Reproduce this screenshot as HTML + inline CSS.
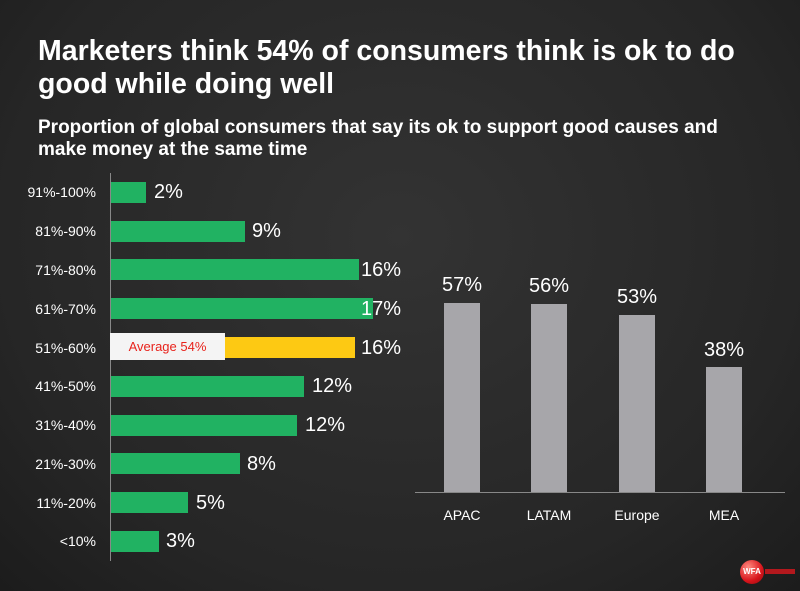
<!DOCTYPE html>
<html><head><style>
body{margin:0;width:800px;height:591px;overflow:hidden;background:radial-gradient(ellipse at 50% 40%,#333 0%,#262626 70%,#1c1c1c 100%);font-family:"Liberation Sans",sans-serif;color:#fff;position:relative}
.a{position:absolute;white-space:nowrap}
.t{left:38px;font-weight:bold;font-size:28.5px;line-height:33px;top:35px}
.s{left:38px;font-weight:bold;font-size:19px;line-height:22px;top:117px}
.lab{font-size:14px;width:96px;text-align:right;left:0}
.bar{background:#21b262;height:21px;left:111px}
.v{font-size:20px}
.g{background:#a7a6aa;width:36px}
.cl{font-size:14px;text-align:center;width:80px}
.cv{font-size:20px;text-align:center;width:80px}
</style></head><body>
<div class="a t">Marketers think 54% of consumers think is ok to do<br>good while doing well</div>
<div class="a s">Proportion of global consumers that say its ok to support good causes and<br>make money at the same time</div>
<div class="a" style="left:110px;top:173px;width:1px;height:388px;background:#888"></div>

<div class="a lab" style="top:184px">91%-100%</div><div class="a bar" style="top:182px;width:35px"></div><div class="a v" style="left:154px;top:181px">2%</div>
<div class="a lab" style="top:223px">81%-90%</div><div class="a bar" style="top:221px;width:134px"></div><div class="a v" style="left:252px;top:220px">9%</div>
<div class="a lab" style="top:262px">71%-80%</div><div class="a bar" style="top:259px;width:248px"></div><div class="a v" style="left:361px;top:259px">16%</div>
<div class="a lab" style="top:301px">61%-70%</div><div class="a bar" style="top:298px;width:262px"></div><div class="a v" style="left:361px;top:298px">17%</div>
<div class="a lab" style="top:340px">51%-60%</div><div class="a bar" style="top:337px;width:244px;background:#fdc913"></div><div class="a v" style="left:361px;top:337px">16%</div>
<div class="a" style="left:110px;top:333px;width:115px;height:27px;background:#f4f4f4;color:#e8231c;font-size:13px;text-align:center;line-height:27px">Average 54%</div>
<div class="a lab" style="top:378px">41%-50%</div><div class="a bar" style="top:376px;width:193px"></div><div class="a v" style="left:312px;top:375px">12%</div>
<div class="a lab" style="top:417px">31%-40%</div><div class="a bar" style="top:415px;width:186px"></div><div class="a v" style="left:305px;top:414px">12%</div>
<div class="a lab" style="top:456px">21%-30%</div><div class="a bar" style="top:453px;width:129px"></div><div class="a v" style="left:247px;top:453px">8%</div>
<div class="a lab" style="top:495px">11%-20%</div><div class="a bar" style="top:492px;width:77px"></div><div class="a v" style="left:196px;top:492px">5%</div>
<div class="a lab" style="top:533px">&lt;10%</div><div class="a bar" style="top:531px;width:48px"></div><div class="a v" style="left:166px;top:530px">3%</div>

<div class="a" style="left:415px;top:492px;width:370px;height:1px;background:#888"></div>
<div class="a g" style="left:444px;top:303px;height:189px"></div><div class="a cv" style="left:422px;top:274px">57%</div><div class="a cl" style="left:422px;top:507px">APAC</div>
<div class="a g" style="left:531px;top:304px;height:188px"></div><div class="a cv" style="left:509px;top:275px">56%</div><div class="a cl" style="left:509px;top:507px">LATAM</div>
<div class="a g" style="left:619px;top:315px;height:177px"></div><div class="a cv" style="left:597px;top:286px">53%</div><div class="a cl" style="left:597px;top:507px">Europe</div>
<div class="a g" style="left:706px;top:367px;height:125px"></div><div class="a cv" style="left:684px;top:339px">38%</div><div class="a cl" style="left:684px;top:507px">MEA</div>

<div class="a" style="left:740px;top:560px;width:24px;height:24px;border-radius:50%;background:radial-gradient(circle at 35% 30%,#ff8a80,#d8141b 60%,#8a0a0e);font-size:8px;font-weight:bold;line-height:24px;text-align:center">WFA</div>
<div class="a" style="left:765px;top:569px;width:30px;height:5px;background:#b3181d"></div>
</body></html>
